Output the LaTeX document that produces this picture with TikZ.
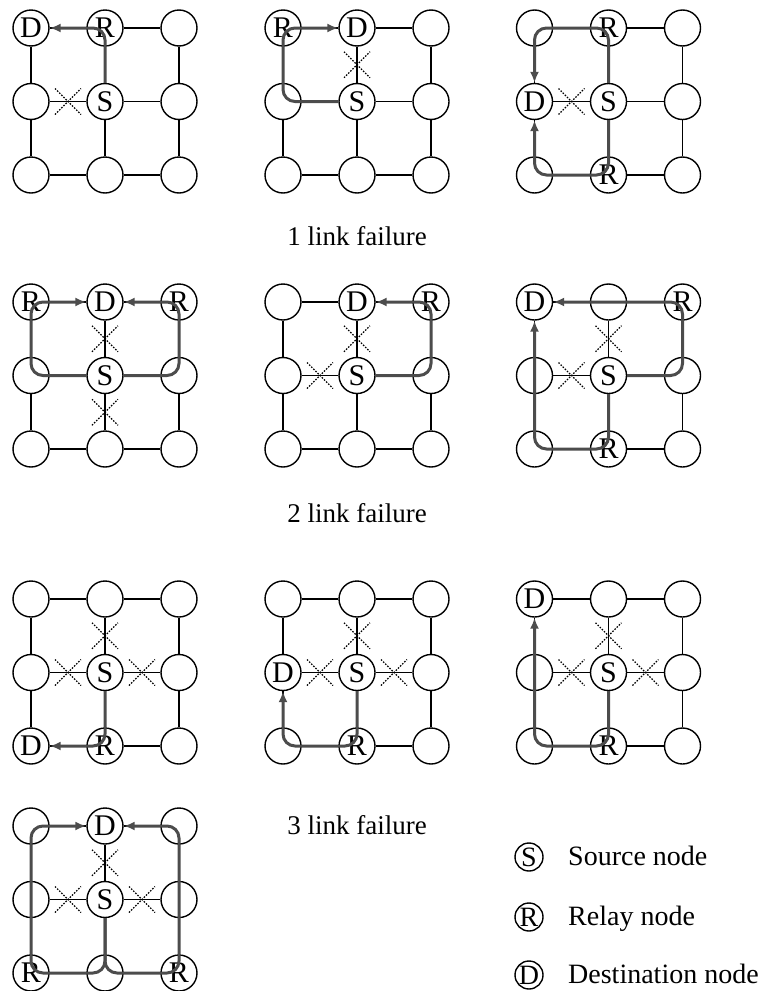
\documentclass[tikz,border=0pt]{standalone}
\usepackage{fontspec}
\setmainfont{Liberation Serif}
\usetikzlibrary{arrows.meta,calc}
\tikzset{
  netnode/.style={draw, circle, fill=white, line width=1.4pt,
    minimum size=36pt, inner sep=0pt},
  netlink/.style={line width=1.4pt},
  nettag/.style={font=\fontsize{30}{32}\selectfont, inner sep=0pt},
  cutmark/.style={line width=1.1pt, dash pattern=on 1.5pt off 1.5pt},
  route/.style={line width=3pt, draw=black!70, rounded corners=12pt,
    -{Latex[length=11pt,width=9pt]}},
  legnode/.style={draw, circle, line width=1.4pt, minimum size=28pt,
    inner sep=0pt, font=\fontsize{28}{30}\selectfont},
  legtext/.style={anchor=base west, inner sep=0pt,
    font=\fontsize{28}{30}\selectfont},
  caption/.style={anchor=base, inner sep=0pt,
    font=\fontsize{27}{30}\selectfont},
}

\begin{document}
\begin{tikzpicture}[x=1pt, y=-1pt]
  \useasboundingbox (0,0) rectangle (760,991);
  % 3x3 meshes, nodes named g<mesh>-<col><row>
  \foreach \g/\ox/\oy in {1/31/28, 2/283/28, 3/534.5/28,
      4/31/302, 5/283/302, 6/534.5/302,
      7/31/599, 8/283/599, 9/534.5/599, 10/31/826} {
    \foreach \c in {0,1,2}
      \foreach \r in {0,1,2}
        \node[netnode] (g\g-\c\r) at (\ox+74*\c, \oy+73.5*\r) {};
  }
  % Links
  \foreach \g in {1,...,10}
    \foreach \i in {0,1,2} {
      \draw[netlink] (g\g-0\i) -- (g\g-1\i);
      \draw[netlink] (g\g-1\i) -- (g\g-2\i);
      \draw[netlink] (g\g-\i0) -- (g\g-\i1);
      \draw[netlink] (g\g-\i1) -- (g\g-\i2);
    }
  % Failed links
  \foreach \a/\b in {g1-01/g1-11, g2-10/g2-11, g3-01/g3-11,
      g4-10/g4-11, g4-11/g4-12, g5-10/g5-11, g5-01/g5-11,
      g6-10/g6-11, g6-01/g6-11,
      g7-10/g7-11, g7-01/g7-11, g7-11/g7-21,
      g8-10/g8-11, g8-01/g8-11, g8-11/g8-21,
      g9-10/g9-11, g9-01/g9-11, g9-11/g9-21,
      g10-10/g10-11, g10-01/g10-11, g10-11/g10-21}
    \draw[cutmark] ($(\a)!.5!(\b)$) +(-13,-13) -- +(13,13)
      +(-13,13) -- +(13,-13);
  % Node roles
  \foreach \n/\t in {g1-00/D, g1-10/R, g1-11/S,
      g2-00/R, g2-10/D, g2-11/S,
      g3-10/R, g3-01/D, g3-11/S, g3-12/R,
      g4-00/R, g4-10/D, g4-20/R, g4-11/S,
      g5-10/D, g5-20/R, g5-11/S,
      g6-00/D, g6-20/R, g6-11/S, g6-12/R,
      g7-02/D, g7-12/R, g7-11/S,
      g8-01/D, g8-12/R, g8-11/S,
      g9-00/D, g9-12/R, g9-11/S,
      g10-10/D, g10-11/S, g10-02/R, g10-22/R}
    \node[nettag] (\n-tag) at (\n) {\t};
  % Row 1: one failed link
  \draw[route] (g1-11.north) -- (g1-10.center) -- (g1-00.east);
  \draw[route] (g2-11.west) -- (g2-01.center) -- (g2-00.center) -- (g2-10.west);
  \draw[route] (g3-11.north) -- (g3-10.center) -- (g3-00.center) -- (g3-01.north);
  \draw[route] (g3-11.south) -- (g3-12.center) -- (g3-02.center) -- (g3-01.south);
  % Row 2: two failed links
  \draw[route] (g4-11.west) -- (g4-01.center) -- (g4-00.center) -- (g4-10.west);
  \draw[route] (g4-11.east) -- (g4-21.center) -- (g4-20.center) -- (g4-10.east);
  \draw[route] (g5-11.east) -- (g5-21.center) -- (g5-20.center) -- (g5-10.east);
  \draw[route] (g6-11.east) -- (g6-21.center) -- (g6-20.center) -- (g6-00.east);
  \draw[route] (g6-11.south) -- (g6-12.center) -- (g6-02.center) -- (g6-00.south);
  % Rows 3-4: three failed links
  \draw[route] (g7-11.south) -- (g7-12.center) -- (g7-02.east);
  \draw[route] (g8-11.south) -- (g8-12.center) -- (g8-02.center) -- (g8-01.south);
  \draw[route] (g9-11.south) -- (g9-12.center) -- (g9-02.center) -- (g9-00.south);
  \draw[route] (g10-11.south) -- (g10-12.center) -- (g10-02.center)
    -- (g10-00.center) -- (g10-10.west);
  \draw[route] (g10-11.south) -- (g10-12.center) -- (g10-22.center)
    -- (g10-20.center) -- (g10-10.east);
  % Captions
  \node[caption] (cap1) at (357,245) {1 link failure};
  \node[caption] (cap2) at (357,522) {2 link failure};
  \node[caption] (cap3) at (357,834) {3 link failure};
  % Legend
  \node[legnode] (legS) at (529,857) {S};
  \node[legnode] (legR) at (529,917) {R};
  \node[legnode] (legD) at (529,975) {D};
  \node[legtext] (legStxt) at (568,865) {Source node};
  \node[legtext] (legRtxt) at (568,925) {Relay node};
  \node[legtext] (legDtxt) at (568,983) {Destination node};
\end{tikzpicture}
\end{document}
